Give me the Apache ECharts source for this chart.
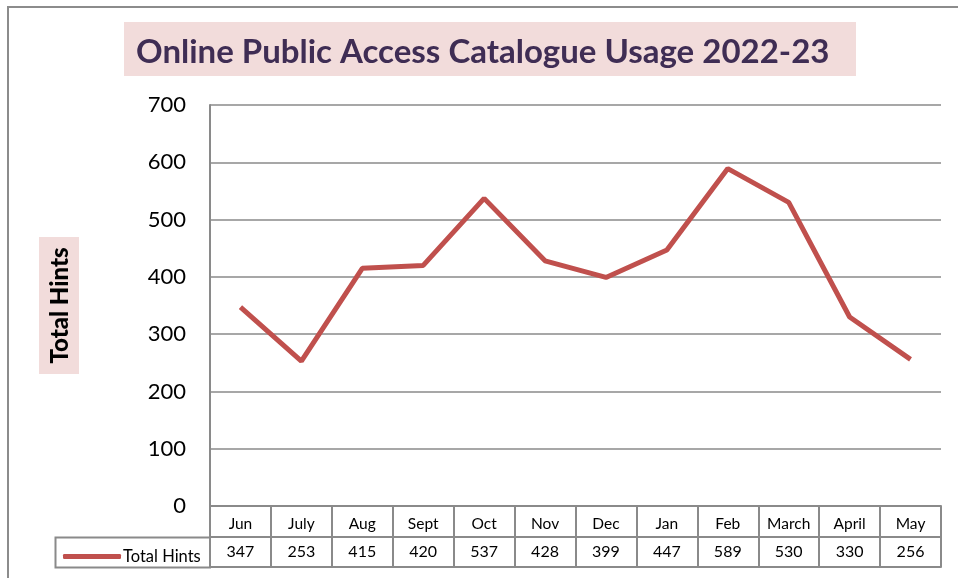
<!DOCTYPE html>
<html><head><meta charset="utf-8">
<script src="https://cdn.jsdelivr.net/npm/echarts@6/dist/echarts.min.js"></script>
<style>html,body{margin:0;padding:0;background:#fff}#c{width:958px;height:578px}</style>
</head><body><div id="c"></div>
<script>
const months = ["Jun","July","Aug","Sept","Oct","Nov","Dec","Jan","Feb","March","April","May"];
const totalHints = [347,253,415,420,537,428,399,447,589,530,330,256];
const seriesName = "Total Hints";
const titleText = "Online Public Access Catalogue Usage 2022-23";
const yAxisName = "Total Hints";
const yMin = 0, yMax = 700, yStep = 100;

const FONT = "Lato";
const GRID_C = "#8a8a8a";
const chart = echarts.init(document.getElementById('c'), null, {renderer:'canvas'});
chart.setOption({
  animation:false,
  backgroundColor:'#fff',
  graphic:[
    {type:'rect', shape:{x:8,y:7,width:960,height:580}, style:{fill:'none',stroke:'#8c8c8c',lineWidth:2}, z:-1},
    {type:'rect', shape:{x:124,y:22,width:732,height:54}, style:{fill:'#F2DCDB'}, z:0},
    {type:'rect', shape:{x:39,y:237,width:40,height:137}, style:{fill:'#F2DCDB'}, z:0},
    {type:'rect', shape:{x:55.5,y:537.5,width:154.5,height:30}, style:{fill:'none',stroke:GRID_C,lineWidth:2}, z:5}
  ],
  title:{text:titleText, left:131, top:31,
    textStyle:{fontFamily:FONT,fontWeight:'bold',fontSize:33,color:'#3F2D54'}},
  legend:{left:58, top:543, itemWidth:58, itemHeight:5, icon:'roundRect', itemGap:0,
    textStyle:{fontFamily:FONT,fontSize:16.5,color:'#000',padding:[0,0,0,-3]}, data:[seriesName]},
  grid:[
    {left:210, right:17, top:105, height:401, containLabel:false},
    {left:210, right:17, top:537, height:30, containLabel:false}
  ],
  xAxis:[
    {type:'category', gridIndex:0, data:months, boundaryGap:true,
      axisLine:{lineStyle:{color:GRID_C,width:2}},
      axisTick:{show:true, length:31, lineStyle:{color:GRID_C,width:2}, alignWithLabel:false},
      axisLabel:{interval:0, margin:10, fontFamily:FONT, fontSize:15.5, color:'#000'}},
    {type:'category', gridIndex:1, data:totalHints.map(String), boundaryGap:true, position:'bottom',
      axisLine:{lineStyle:{color:GRID_C,width:2}},
      axisTick:{show:true, inside:true, length:30, lineStyle:{color:GRID_C,width:2}},
      axisLabel:{interval:0, inside:true, margin:7, fontFamily:FONT, fontSize:16, color:'#000'}}
  ],
  yAxis:[
    {type:'value', gridIndex:0, min:yMin, max:yMax, interval:yStep,
      name:yAxisName, nameLocation:'middle', nameGap:138, nameRotate:90,
      nameTextStyle:{fontFamily:FONT,fontWeight:900,fontSize:24,color:'#000'},
      axisLine:{show:true,lineStyle:{color:GRID_C,width:2}},
      axisTick:{show:false},
      splitLine:{show:true,lineStyle:{color:GRID_C,width:1.5}},
      axisLabel:{margin:24, fontFamily:FONT, fontSize:22, color:'#000'}},
    {type:'value', gridIndex:1, min:0, max:1, interval:1,
      axisLine:{show:false}, axisTick:{show:false}, axisLabel:{show:false},
      splitLine:{show:true,lineStyle:{color:GRID_C,width:2}}}
  ],
  series:[{name:seriesName, type:'line', xAxisIndex:0, yAxisIndex:0, data:totalHints,
    showSymbol:false, symbol:'none', lineStyle:{color:'#C0504D',width:5}, itemStyle:{color:'#C0504D'}}]
});
</script></body></html>
